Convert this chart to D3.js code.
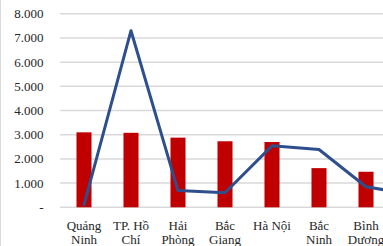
<!DOCTYPE html>
<html>
<head>
<meta charset="utf-8">
<script src="https://d3js.org/d3.v7.min.js"></script>
<style>
  body { margin: 0; background: #fff; }
  svg { display: block; }
</style>
</head>
<body>
<div class="chart"></div>
<script>
// dữ liệu
var categories = ["Quảng Ninh", "TP. Hồ Chí Minh", "Hải Phòng", "Bắc Giang", "Hà Nội", "Bắc Ninh", "Bình Dương", "Đồng Nai"];
var barValues = [3100, 3080, 2880, 2730, 2700, 1620, 1470, 1300];
var lineValues = [100, 7300, 690, 600, 2540, 2390, 850, 520];
var yTicks = [0, 1000, 2000, 3000, 4000, 5000, 6000, 7000, 8000];
var yTickLabels = ["-", "1.000", "2.000", "3.000", "4.000", "5.000", "6.000", "7.000", "8.000"];

var w = 383;
var h = 246;
var serif = "'Liberation Serif', 'DejaVu Serif', 'Times New Roman', serif";

var svg = d3.select(".chart")
  .append("svg")
  .attr("width", w)
  .attr("height", h)
  .style("background", "#FFFFFF");

// khung bên trái
svg.append("line")
  .attr("x1", 0.5).attr("x2", 0.5)
  .attr("y1", 0).attr("y2", h)
  .attr("stroke", "#d9d9d9");

var y = d3.scaleLinear().domain([0, 8000]).range([207.3, 13.8]);
var x = d3.scaleBand()
  .domain(categories)
  .range([60.5, 436.5])
  .paddingInner(0.68)
  .paddingOuter(0.34);

// đường lưới
svg.selectAll(".grid")
  .data(yTicks)
  .enter()
  .append("line")
  .attr("class", "grid")
  .attr("x1", 60)
  .attr("x2", w)
  .attr("y1", function(d) { return y(d); })
  .attr("y2", function(d) { return y(d); })
  .attr("stroke", "#d9d9d9")
  .attr("stroke-width", 1.5);

// nhãn trục y
svg.selectAll(".ylab")
  .data(yTicks)
  .enter()
  .append("text")
  .attr("class", "ylab")
  .attr("x", 43.5)
  .attr("y", function(d) { return y(d) + 4.5; })
  .attr("text-anchor", "end")
  .attr("fill", "#262626")
  .attr("font-family", serif)
  .style("font-family", serif)
  .style("font-size", "13px")
  .text(function(d, i) { return yTickLabels[i]; });

// cột
svg.selectAll(".bar")
  .data(categories)
  .enter()
  .append("rect")
  .attr("class", "bar")
  .attr("x", function(d) { return x(d); })
  .attr("width", x.bandwidth())
  .attr("y", function(d, i) { return y(barValues[i]); })
  .attr("height", function(d, i) { return y(0) - y(barValues[i]); })
  .attr("fill", "#C00000");

// đường
var line = d3.line()
  .x(function(d, i) { return x(categories[i]) + x.bandwidth() / 2; })
  .y(function(d) { return y(d); });

svg.append("path")
  .datum(lineValues)
  .attr("d", line)
  .attr("fill", "none")
  .attr("stroke", "#2F4F8C")
  .attr("stroke-width", 3)
  .attr("stroke-linejoin", "round")
  .attr("stroke-linecap", "round");

// nhãn trục x, xuống dòng theo độ rộng
var maxW = x.step() - 1;
var xl = svg.selectAll(".xlab")
  .data(categories)
  .enter()
  .append("text")
  .attr("class", "xlab")
  .attr("text-anchor", "middle")
  .attr("fill", "#262626")
  .attr("font-family", serif)
  .style("font-family", serif)
  .style("font-size", "13px")
  .attr("transform", function(d) { return "translate(" + (x(d) + x.bandwidth() / 2) + ",229.5)"; });

xl.each(function(d) {
  var t = d3.select(this);
  var words = d.split(" ");
  var lines = [];
  var cur = words[0];
  var probe = t.append("tspan").text(cur);
  for (var k = 1; k < words.length; k++) {
    probe.text(cur + " " + words[k]);
    if (probe.node().getComputedTextLength() > maxW) {
      lines.push(cur);
      cur = words[k];
    } else {
      cur = cur + " " + words[k];
    }
  }
  lines.push(cur);
  probe.remove();
  lines.forEach(function(s, j) {
    t.append("tspan").attr("x", 0).attr("dy", j === 0 ? 0 : 14.5).text(s);
  });
});
</script>
</body>
</html>
